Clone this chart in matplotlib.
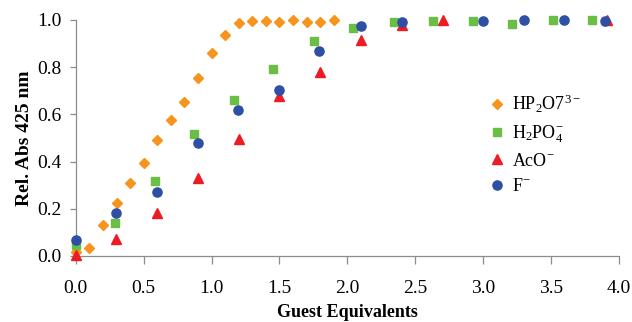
import matplotlib
matplotlib.use('Agg')
import matplotlib.pyplot as plt

plt.rcParams['font.family'] = 'Liberation Serif'
plt.rcParams['mathtext.fontset'] = 'custom'
plt.rcParams['mathtext.rm'] = 'Liberation Serif'
plt.rcParams['mathtext.it'] = 'Liberation Serif:italic'

# HP2O7(3-)
hp2o7_x = [0.0, 0.1, 0.2, 0.3, 0.4, 0.5, 0.6, 0.7, 0.8, 0.9, 1.0, 1.1, 1.2, 1.3, 1.4, 1.5, 1.6, 1.7, 1.8, 1.9]
hp2o7_y = [0.015, 0.033, 0.13, 0.224, 0.308, 0.395, 0.492, 0.578, 0.651, 0.752, 0.859, 0.937, 0.987, 0.997,
           0.997, 0.992, 1.0, 0.99, 0.993, 1.0]

# H2PO4-
h2po4_x = [0.0, 0.287, 0.58, 0.874, 1.169, 1.456, 1.753, 2.043, 2.343, 2.63, 2.925, 3.214, 3.514, 3.80]
h2po4_y = [0.046, 0.14, 0.318, 0.518, 0.66, 0.793, 0.91, 0.966, 0.992, 0.997, 0.997, 0.983, 1.0, 1.0]

# AcO-
aco_x = [0.0, 0.295, 0.6, 0.9, 1.2, 1.5, 1.8, 2.1, 2.4, 2.706, 3.91]
aco_y = [0.004, 0.072, 0.184, 0.332, 0.497, 0.676, 0.778, 0.916, 0.979, 1.0, 1.0]

# F-
f_x = [0.0, 0.295, 0.6, 0.9, 1.196, 1.5, 1.79, 2.1, 2.4, 3.0, 3.3, 3.6, 3.9]
f_y = [0.066, 0.181, 0.269, 0.477, 0.619, 0.702, 0.87, 0.973, 0.993, 0.997, 1.0, 1.0, 0.996]

fig = plt.figure(figsize=(6.32, 3.22), dpi=100)
ax = fig.add_axes([0.120, 0.205, 0.859, 0.733])

ax.plot(hp2o7_x, hp2o7_y, 'D', color='#F7941D', markersize=5.2, linestyle='none',
        label=r'$\mathregular{HP_2O7^{3-}}$', clip_on=False, zorder=3)
ax.plot(h2po4_x, h2po4_y, 's', color='#6ABD45', markersize=6.2, linestyle='none',
        label=r'$\mathregular{H_2PO_4^{-}}$', clip_on=False, zorder=3)
ax.plot(aco_x, aco_y, '^', color='#ED1C24', markersize=6.6, linestyle='none',
        label=r'$\mathregular{AcO^{-}}$', clip_on=False, zorder=3)
ax.plot(f_x, f_y, 'o', color='#2E4FA3', markersize=6.6, linestyle='none',
        label=r'$\mathregular{F^{-}}$', clip_on=False, zorder=4)

ax.set_xlim(0, 4.0)
ax.set_ylim(0, 1.0)
ax.set_xticks([0.0, 0.5, 1.0, 1.5, 2.0, 2.5, 3.0, 3.5, 4.0])
ax.set_yticks([0.0, 0.2, 0.4, 0.6, 0.8, 1.0])
ax.xaxis.set_major_formatter(matplotlib.ticker.FormatStrFormatter('%.1f'))
ax.yaxis.set_major_formatter(matplotlib.ticker.FormatStrFormatter('%.1f'))

for s in ['top', 'right']:
    ax.spines[s].set_visible(False)
for s in ['left', 'bottom']:
    ax.spines[s].set_color('#8c8c8c')
    ax.spines[s].set_linewidth(0.9)
ax.tick_params(axis='both', colors='#8c8c8c', labelcolor='black', labelsize=14, width=0.9)
ax.tick_params(axis='x', length=5.5, pad=12)
ax.tick_params(axis='y', length=4, pad=6)

ax.set_xlabel('Guest Equivalents', fontsize=13, fontweight='bold', labelpad=5)
ax.set_ylabel('Rel. Abs 425 nm', fontsize=14, fontweight='bold', labelpad=3)

ax.legend(loc='upper left', bbox_to_anchor=(0.725, 0.76), frameon=False, fontsize=13,
          handletextpad=0.25, labelspacing=0.45, handlelength=1.2)

fig.savefig('out.png', dpi=100)
